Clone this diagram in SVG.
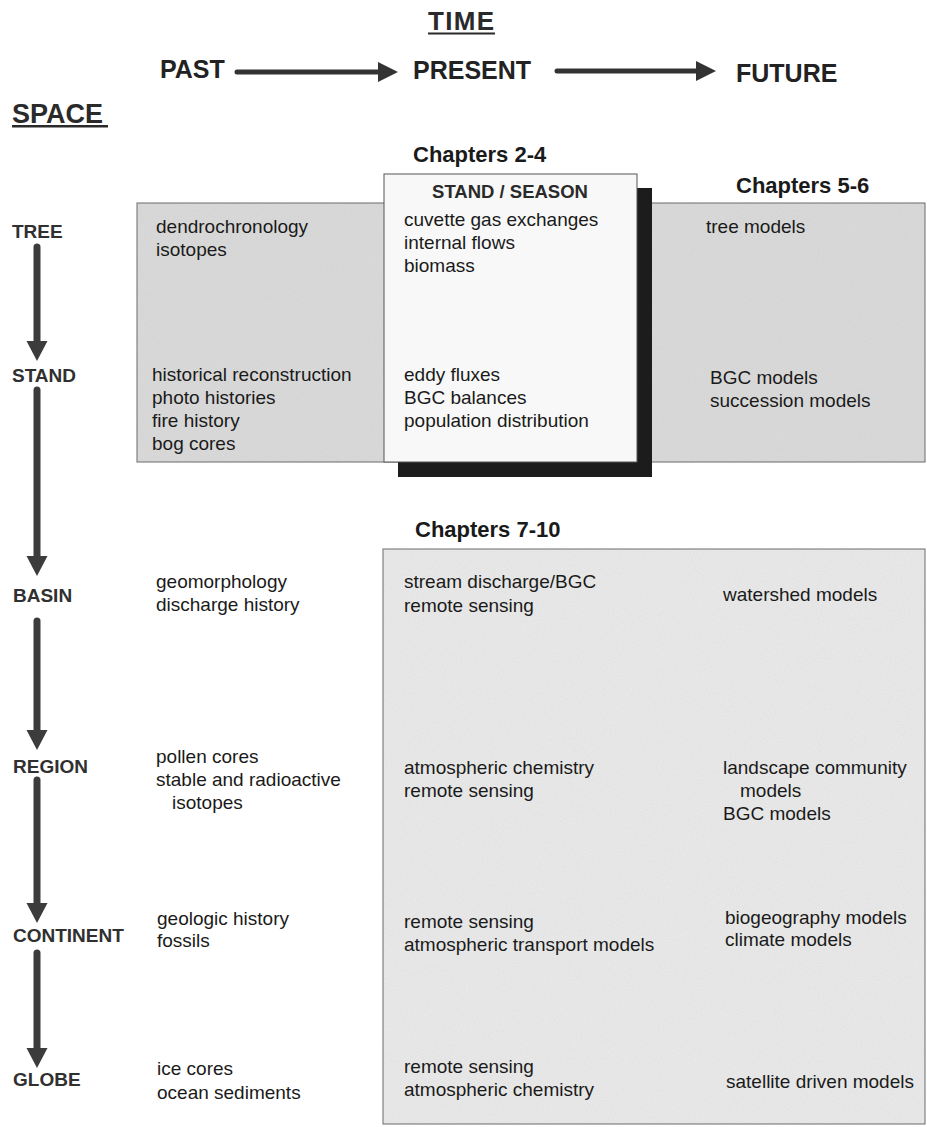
<svg xmlns="http://www.w3.org/2000/svg" width="927" height="1127" viewBox="0 0 927 1127">
<style>
text{font-family:"Liberation Sans",Arial,sans-serif;fill:#1a1a1a}
.t{font-size:19px}
.lvl{font-size:19px;font-weight:bold;fill:#303030}
.ch{font-size:22px;font-weight:bold}
.tm{font-size:25px;font-weight:bold;fill:#222}
.hd{font-weight:bold;fill:#2a2a2a}
.vs{stroke:#3c3c3c;stroke-width:7;stroke-linecap:round;fill:none}
.hs{stroke:#333;stroke-width:5;stroke-linecap:round;fill:none}
.grain{filter:url(#grain)}
</style>
<defs>
<filter id="grain" x="0" y="0" width="100%" height="100%">
<feTurbulence type="fractalNoise" baseFrequency="0.85" numOctaves="2" seed="3" result="n"/>
<feColorMatrix in="n" type="matrix" values="0 0 0 0 0.45  0 0 0 0 0.45  0 0 0 0 0.45  0 0 0 0.25 0" result="speck"/>
<feComposite in="speck" in2="SourceGraphic" operator="in" result="sp"/>
<feMerge><feMergeNode in="SourceGraphic"/><feMergeNode in="sp"/></feMerge>
</filter>
<marker id="headV" markerUnits="userSpaceOnUse" markerWidth="22" markerHeight="22" refX="1" refY="10.5" orient="auto">
<path d="M0,0 L20,10.5 L0,21 Z" fill="#3c3c3c"/>
</marker>
<marker id="headH" markerUnits="userSpaceOnUse" markerWidth="22" markerHeight="22" refX="1" refY="10" orient="auto">
<path d="M0,0 L20,10 L0,20 Z" fill="#333"/>
</marker>
</defs>
<rect width="927" height="1127" fill="#ffffff"/>

<g id="time-axis">
<text class="hd" x="428" y="30" font-size="26" textLength="66">TIME</text>
<rect x="428" y="32.5" width="67" height="2" fill="#2a2a2a"/>
<text class="tm" x="160" y="78">PAST</text>
<text class="tm" x="413" y="79">PRESENT</text>
<text class="tm" x="736" y="82">FUTURE</text>
</g>

<g id="space-axis">
<text class="hd" x="12" y="123" font-size="27">SPACE</text>
<rect x="12" y="125" width="96" height="2.5" fill="#2a2a2a"/>
</g>

<g id="band-stand">
<rect class="grain" x="137" y="203" width="788" height="259" fill="#dcdcdc"/>
<rect x="137" y="203" width="788" height="259" fill="none" stroke="#6a6a6a" stroke-width="1"/>
</g>

<g id="box-stand-season">
<rect x="398" y="188" width="254" height="289" fill="#1c1c1c"/>
<rect x="384" y="174" width="253" height="288" fill="#f8f8f8" stroke="#555" stroke-width="1"/>
<text class="ch" x="413" y="162">Chapters 2-4</text>
<text class="hd" x="510" y="198" font-size="18.5" text-anchor="middle">STAND / SEASON</text>
<text class="t" x="404" y="226">cuvette gas exchanges</text>
<text class="t" x="404" y="249">internal flows</text>
<text class="t" x="404" y="272">biomass</text>
<text class="t" x="404" y="381">eddy fluxes</text>
<text class="t" x="404" y="404">BGC balances</text>
<text class="t" x="404" y="427">population distribution</text>
</g>

<g id="past-tree-stand">
<text class="t" x="156" y="233">dendrochronology</text>
<text class="t" x="156" y="256">isotopes</text>
<text class="t" x="152" y="381">historical reconstruction</text>
<text class="t" x="152" y="404">photo histories</text>
<text class="t" x="152" y="427">fire history</text>
<text class="t" x="152" y="450">bog cores</text>
</g>

<g id="future-tree-stand">
<text class="ch" x="736" y="193">Chapters 5-6</text>
<text class="t" x="706" y="233">tree models</text>
<text class="t" x="710" y="384">BGC models</text>
<text class="t" x="710" y="407">succession models</text>
</g>

<g id="box-basin-globe">
<text class="ch" x="415" y="537">Chapters 7-10</text>
<rect class="grain" x="383" y="549" width="542" height="575" fill="#ececec"/>
<rect x="383" y="549" width="542" height="575" fill="none" stroke="#6a6a6a" stroke-width="1"/>
<text class="t" x="404" y="588">stream discharge/BGC</text>
<text class="t" x="404" y="612">remote sensing</text>
<text class="t" x="404" y="774">atmospheric chemistry</text>
<text class="t" x="404" y="797">remote sensing</text>
<text class="t" x="404" y="928">remote sensing</text>
<text class="t" x="404" y="951">atmospheric transport models</text>
<text class="t" x="404" y="1073">remote sensing</text>
<text class="t" x="404" y="1096">atmospheric chemistry</text>
<text class="t" x="723" y="601">watershed models</text>
<text class="t" x="723" y="774">landscape community</text>
<text class="t" x="740" y="797">models</text>
<text class="t" x="723" y="820">BGC models</text>
<text class="t" x="725" y="924">biogeography models</text>
<text class="t" x="725" y="946">climate models</text>
<text class="t" x="726" y="1088">satellite driven models</text>
</g>

<g id="past-basin-globe">
<text class="t" x="156" y="588">geomorphology</text>
<text class="t" x="156" y="611">discharge history</text>
<text class="t" x="156" y="763">pollen cores</text>
<text class="t" x="156" y="786">stable and radioactive</text>
<text class="t" x="172" y="809">isotopes</text>
<text class="t" x="157" y="925">geologic history</text>
<text class="t" x="157" y="947">fossils</text>
<text class="t" x="157" y="1075">ice cores</text>
<text class="t" x="157" y="1099">ocean sediments</text>
</g>

<g id="level-tree"><text class="lvl" x="12" y="238">TREE</text></g>
<g id="level-stand"><text class="lvl" x="12" y="382">STAND</text></g>
<g id="level-basin"><text class="lvl" x="13" y="602">BASIN</text></g>
<g id="level-region"><text class="lvl" x="13" y="773">REGION</text></g>
<g id="level-continent"><text class="lvl" x="13" y="942">CONTINENT</text></g>
<g id="level-globe"><text class="lvl" x="13" y="1086">GLOBE</text></g>

<g id="connectors">
<line class="hs" x1="237" y1="72" x2="379" y2="72" marker-end="url(#headH)"/>
<line class="hs" x1="557" y1="71" x2="697" y2="71" marker-end="url(#headH)"/>
<line class="vs" x1="37" y1="247" x2="37" y2="342" marker-end="url(#headV)"/>
<line class="vs" x1="37" y1="390" x2="37" y2="557" marker-end="url(#headV)"/>
<line class="vs" x1="37" y1="621" x2="37" y2="731" marker-end="url(#headV)"/>
<line class="vs" x1="37" y1="780" x2="37" y2="904" marker-end="url(#headV)"/>
<line class="vs" x1="37" y1="953" x2="37" y2="1049" marker-end="url(#headV)"/>
</g>
</svg>
